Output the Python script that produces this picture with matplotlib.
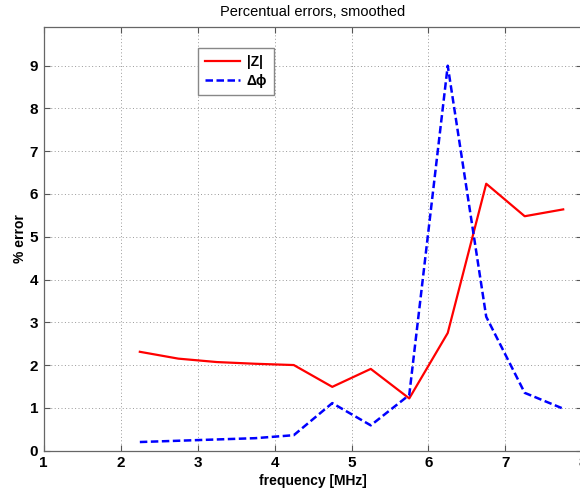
import matplotlib
matplotlib.use("Agg")
import matplotlib.pyplot as plt

# frequency points (MHz) and smoothed percentage errors
freq = [2.25, 2.75, 3.25, 3.75, 4.25, 4.75, 5.25, 5.75, 6.25, 6.75, 7.25, 7.75]
err_mag = [2.31, 2.15, 2.07, 2.03, 2.00, 1.49, 1.91, 1.22, 2.75, 6.24, 5.48, 5.64]
err_phase = [0.20, 0.23, 0.26, 0.29, 0.36, 1.11, 0.59, 1.30, 9.00, 3.13, 1.35, 0.98]

xticks = [1, 2, 3, 4, 5, 6, 7, 8]
yticks = [0, 1, 2, 3, 4, 5, 6, 7, 8, 9]

plt.rcParams['font.family'] = ['Liberation Sans', 'DejaVu Sans']

fig = plt.figure(figsize=(5.8, 4.94), dpi=100)
ax = fig.add_axes([0.0752, 0.0879, 0.929, 0.857])

ax.plot(freq, err_mag, color='#ff0000', lw=1.6, label='|Z|')
ax.plot(freq, err_phase, color='#0000ff', lw=1.8, ls=(0, (3.0, 1.4)), label='Δϕ')

ax.set_xlim(1, 8)
ax.set_ylim(0, 9.9)
ax.set_xticks(xticks)
ax.set_yticks(yticks)
ax.tick_params(direction='in', top=True, right=True, length=4, width=0.8,
               colors='#555555', labelcolor='black', labelsize=11, pad=4)
for lab in ax.get_xticklabels() + ax.get_yticklabels():
    lab.set_fontweight('bold')
for s in ax.spines.values():
    s.set_color('#666666')
    s.set_linewidth(0.9)

ax.grid(True, ls=(0, (1, 2.5)), color='#999999', lw=0.7)

ax.set_title('Percentual errors, smoothed', fontsize=10.5, pad=8)
ax.set_xlabel('frequency [MHz]', fontsize=10, fontweight='bold', labelpad=3)
ax.set_ylabel('% error', fontsize=10, fontweight='bold', labelpad=2)

leg = ax.legend(loc='upper left', bbox_to_anchor=(0.2865, 0.951), borderaxespad=0,
                fontsize=10, handlelength=2.5, handletextpad=0.5, borderpad=0.5,
                labelspacing=0.35, fancybox=False, framealpha=1, edgecolor='#888888')
leg.get_frame().set_linewidth(1.0)
for t in leg.get_texts():
    t.set_fontweight('bold')

fig.savefig('out.png', dpi=100)
